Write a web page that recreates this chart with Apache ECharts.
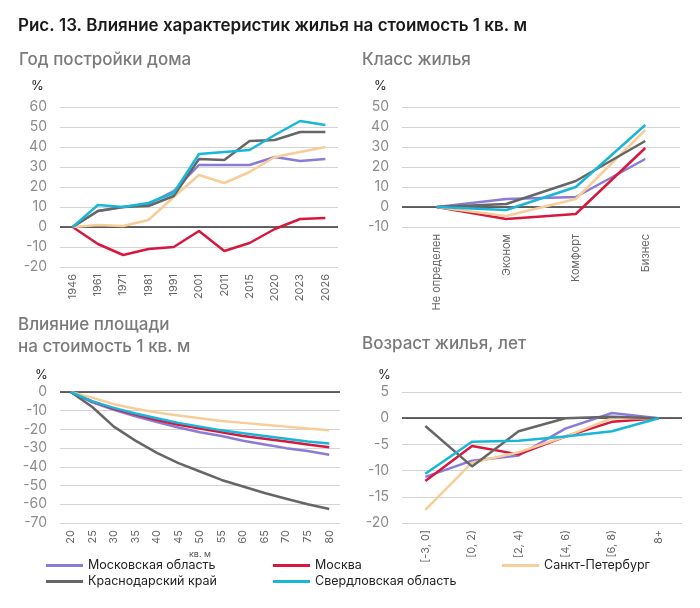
<!DOCTYPE html>
<html>
<head>
    <meta charset="utf-8">
    <script src="https://cdn.jsdelivr.net/npm/echarts@6/dist/echarts.min.js"></script>
    <title>Рис. 13</title>
    <style>
        html, body { margin: 0; padding: 0; background: #fff; }
    </style>
</head>
<body>
    <div id="container" style="width:700px;height:608px;"></div>
    <script type="text/javascript">
    // регионы и цвета
    var names = ['Московская область', 'Москва', 'Санкт-Петербург', 'Краснодарский край', 'Свердловская область'];
    var colors = ['#8a7cd6', '#d8173f', '#f7cd99', '#666666', '#18b7d7'];

    // Год постройки дома
    var years = ['1946', '1961', '1971', '1981', '1991', '2001', '2011', '2015', '2020', '2023', '2026'];
    var yearMosObl = [0, 8, 10, 11.5, 18, 31, 31, 31, 35, 33, 34];
    var yearMoscow = [0, -8.5, -14, -11, -10, -2, -12, -8, -1, 4, 4.5];
    var yearSpb = [0, 1, 0.5, 3.5, 15, 26, 22, 27.5, 35, 37.5, 40];
    var yearKrd = [0, 8, 10, 10.5, 15.5, 34, 33.5, 43, 43.5, 47.5, 47.5];
    var yearSvr = [0, 11, 10, 12, 17, 36.5, 37.5, 38.5, 46, 53, 51];

    // Класс жилья
    var classes = ['Не определен', 'Эконом', 'Комфорт', 'Бизнес'];
    var classMosObl = [0, 4, 5, 24];
    var classMoscow = [0, -6, -3.5, 29.5];
    var classSpb = [0, -4.5, 4, 38.5];
    var classKrd = [0, 1.5, 13, 33];
    var classSvr = [0, -1.5, 10, 41];

    // Площадь
    var areas = ['20', '25', '30', '35', '40', '45', '50', '55', '60', '65', '70', '75', '80'];
    var areaMosObl = [0, -5.5, -9.5, -13, -16, -19, -21.5, -23.5, -26, -28, -30, -31.5, -33.5];
    var areaMoscow = [0, -5, -9, -12, -15, -17.5, -19.5, -21.5, -23.5, -25, -26.5, -28, -29.5];
    var areaSpb = [0, -3, -6.5, -9, -11, -12.5, -14, -15.5, -16.5, -17.5, -18.5, -19.5, -20.5];
    var areaKrd = [0, -8, -18.5, -26, -32.5, -38, -42.5, -47, -50.5, -54, -57, -60, -62.5];
    var areaSvr = [0, -5, -8.5, -11.5, -14, -16.5, -18.5, -20.5, -22, -23.5, -25, -26.5, -27.5];

    // Возраст жилья
    var ages = ['[-3, 0]', '[0, 2)', '[2, 4)', '[4, 6)', '[6, 8)', '8+'];
    var ageMosObl = [-11.2, -8.1, -7.1, -2, 1, 0];
    var ageMoscow = [-12, -5.3, -6.9, -3.5, -0.7, 0];
    var ageSpb = [-17.5, -8.5, -6.5, -3.5, 0, 0];
    var ageKrd = [-1.5, -9.2, -2.5, 0, 0.3, 0];
    var ageSvr = [-10.6, -4.5, -4.3, -3.5, -2.5, 0];

    var FONT = 'Inter';

    var myChart = echarts.init(document.getElementById('container'), null, { renderer: 'canvas' });

    var panels = [
        { cats: years, data: [yearMosObl, yearMoscow, yearSpb, yearKrd, yearSvr], min: -20, max: 60, interval: 10,
          grid: { left: 60, top: 107, width: 278, height: 160 } },
        { cats: classes, data: [classMosObl, classMoscow, classSpb, classKrd, classSvr], min: -10, max: 50, interval: 10,
          grid: { left: 402, top: 107, width: 278, height: 120 } },
        { cats: areas, data: [areaMosObl, areaMoscow, areaSpb, areaKrd, areaSvr], min: -70, max: 0, interval: 10,
          grid: { left: 60, top: 392, width: 280, height: 131 }, xName: 'кв. м' },
        { cats: ages, data: [ageMosObl, ageMoscow, ageSpb, ageKrd, ageSvr], min: -20, max: 5, interval: 5,
          grid: { left: 402, top: 392, width: 280, height: 131 } }
    ];

    var grids = [], xAxes = [], yAxes = [], series = [];
    panels.forEach(function(p, i) {
        grids.push(p.grid);
        xAxes.push({
            type: 'category',
            gridIndex: i,
            data: p.cats,
            boundaryGap: true,
            axisLine: { show: false },
            axisTick: { show: false },
            axisLabel: { rotate: 90, color: '#666', fontSize: 11, fontFamily: FONT, margin: 7, interval: 0 },
            name: p.xName || '',
            nameLocation: 'middle',
            nameGap: 27,
            nameTextStyle: { fontSize: 9, color: '#555', fontFamily: FONT }
        });
        yAxes.push({
            type: 'value',
            gridIndex: i,
            min: p.min,
            max: p.max,
            interval: p.interval,
            axisLine: { show: false },
            axisTick: { show: false },
            axisLabel: { color: '#8c8c8c', fontSize: 14, fontFamily: FONT, margin: 13 },
            splitLine: { lineStyle: { color: '#d4d4d4', width: 1 } }
        });
        p.data.forEach(function(values, k) {
            var s = {
                name: names[k],
                type: 'line',
                xAxisIndex: i,
                yAxisIndex: i,
                data: values,
                symbol: 'none',
                color: colors[k],
                lineStyle: { width: 2.5, color: colors[k] },
                z: 3 + k
            };
            if (k === 0) {
                // нулевая линия
                s.markLine = {
                    silent: true,
                    symbol: 'none',
                    label: { show: false },
                    lineStyle: { color: '#333', type: 'solid', width: 1.5 },
                    data: [{ yAxis: 0 }],
                    z: 2
                };
            }
            series.push(s);
        });
    });

    // легенда: отдельный блок на каждый регион
    var legendPos = [[46, 559], [273, 559], [502, 559], [46, 575], [273, 575]];
    var legends = names.map(function(n, k) {
        return {
            data: [n],
            left: legendPos[k][0],
            top: legendPos[k][1],
            padding: 0,
            icon: 'rect',
            itemWidth: 37,
            itemHeight: 3,
            itemGap: 0,
            selectedMode: false,
            textStyle: { fontSize: 12.5, color: '#222', fontFamily: FONT }
        };
    });

    var subTitle = { fontSize: 17, fontWeight: 500, color: '#7a7a7a', fontFamily: FONT };

    var option = {
        animation: false,
        title: [
            { text: 'Рис. 13. Влияние характеристик жилья на стоимость 1 кв. м', left: 18, top: 17, padding: 0,
              textStyle: { fontSize: 17, fontWeight: 600, color: '#1a1a1a', fontFamily: FONT } },
            { text: 'Год постройки дома', left: 19, top: 51, padding: 0, textStyle: subTitle },
            { text: 'Класс жилья', left: 362, top: 51, padding: 0, textStyle: subTitle },
            { text: 'Влияние площади\nна стоимость 1 кв. м', left: 18, top: 314, padding: 0,
              textStyle: Object.assign({ lineHeight: 22 }, subTitle) },
            { text: 'Возраст жилья, лет', left: 362, top: 335, padding: 0, textStyle: subTitle }
        ],
        graphic: [
            { type: 'text', left: 31, top: 80, style: { text: '%', fontSize: 13, fill: '#222', fontFamily: FONT } },
            { type: 'text', left: 374, top: 80, style: { text: '%', fontSize: 13, fill: '#222', fontFamily: FONT } },
            { type: 'text', left: 35, top: 369, style: { text: '%', fontSize: 13, fill: '#222', fontFamily: FONT } },
            { type: 'text', left: 378, top: 369, style: { text: '%', fontSize: 13, fill: '#222', fontFamily: FONT } }
        ],
        legend: legends,
        grid: grids,
        xAxis: xAxes,
        yAxis: yAxes,
        series: series
    };

    myChart.setOption(option);
    </script>
</body>
</html>
